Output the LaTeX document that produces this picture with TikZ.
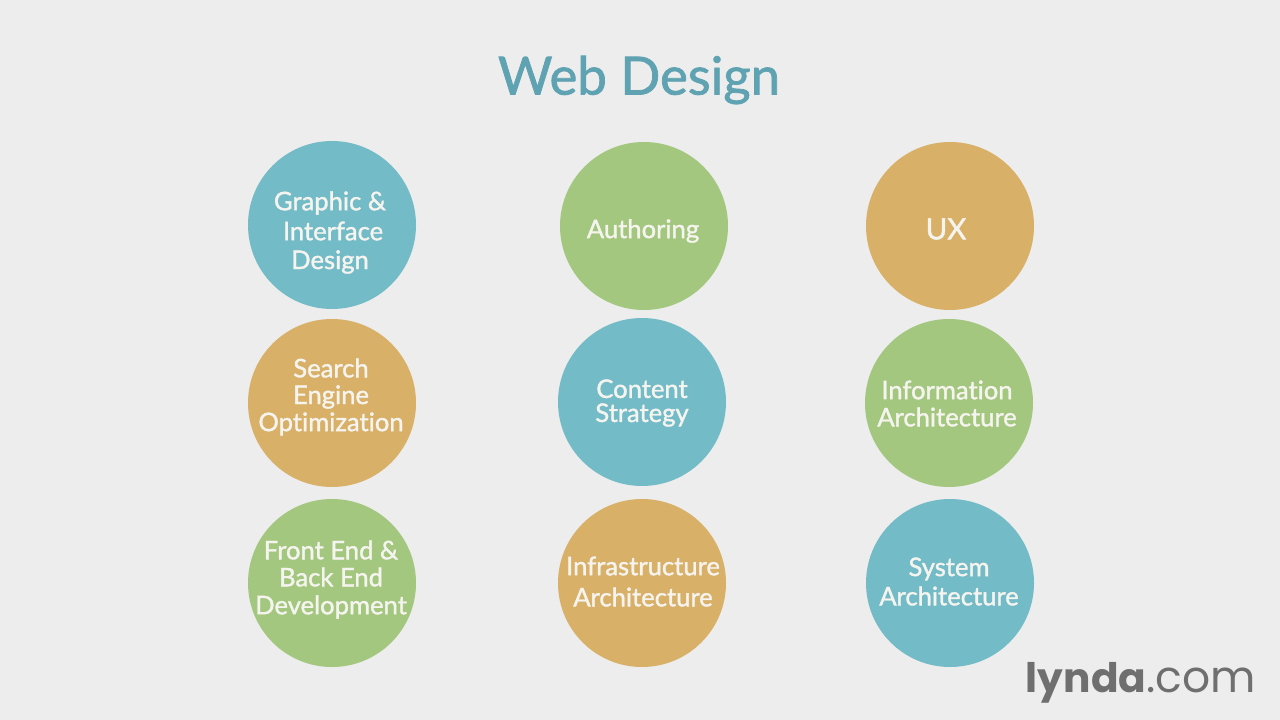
\documentclass[tikz,border=0pt]{standalone}
\usepackage{fontspec}
\setmainfont{Lato}[Ligatures=NoCommon]
\newfontfamily\medfont{Lato}[FakeBold=1.4,Ligatures=NoCommon]
\newfontfamily\logofont{Poppins}
\definecolor{bg}{HTML}{ECEDEC}
\definecolor{cblue}{HTML}{74BBC8}
\definecolor{cgreen}{HTML}{A3C77E}
\definecolor{corange}{HTML}{D9B068}
\definecolor{ctitle}{HTML}{5FA3B3}
\definecolor{clogo}{HTML}{6F6F6F}
\definecolor{ctext}{HTML}{F5F4EF}
\tikzset{
 px/.style={x=0.75pt,y=-0.75pt},
 bubble/.style={circle,minimum size=126pt,inner sep=0pt},
 lbl/.style={text=ctext,font=\medfont\fontsize{19.2pt}{18pt}\selectfont,align=center,inner sep=0pt},
}
\begin{document}
\begin{tikzpicture}[px]
\path[use as bounding box,fill=bg] (0,0) rectangle (1280,720);
\node[text=ctitle,font=\medfont\fontsize{39.5pt}{44pt}\selectfont] (title) at (639,80) {Web Design};
\node[bubble,fill=cblue] (a) at (332,225) {};
\node[bubble,fill=cgreen] (b) at (644,226) {};
\node[bubble,fill=corange] (c) at (950,226) {};
\node[bubble,fill=corange] (d) at (332,403) {};
\node[bubble,fill=cblue] (e) at (642,402) {};
\node[bubble,fill=cgreen] (f) at (949,403) {};
\node[bubble,fill=cgreen] (g) at (332,583) {};
\node[bubble,fill=corange] (h) at (642,583) {};
\node[bubble,fill=cblue] (i) at (950,583) {};
\node[lbl] (a1) at (330,203) {Graphic \&};
\node[lbl] (a2) at (333,231) {Interface};
\node[lbl] (a3) at (330,262) {Design};
\node[lbl] (b1) at (643,231) {Authoring};
\node[lbl,font=\medfont\fontsize{22pt}{24pt}\selectfont] (c1) at (946,229) {UX};
\node[lbl] (d1) at (331,368) {Search};
\node[lbl] (d2) at (331,397) {Engine};
\node[lbl] (d3) at (331,424) {Optimization};
\node[lbl] (e1) at (642,403) {Content\\Strategy};
\node[lbl] (f1) at (947,390) {Information};
\node[lbl] (f2) at (947,417) {Architecture};
\node[lbl] (g1) at (331,550) {Front End \&};
\node[lbl] (g2) at (331,577) {Back End};
\node[lbl] (g3) at (331,607) {Development};
\node[lbl] (h1) at (643,566) {Infrastructure};
\node[lbl] (h2) at (643,597) {Architecture};
\node[lbl] (i1) at (949,569) {System};
\node[lbl] (i2) at (949,596) {Architecture};
\node[anchor=east,inner sep=0pt,text=clogo] (logo) at (1256,683) {\logofont\fontsize{30.5pt}{36pt}\selectfont\textbf{lynda}\fontsize{33pt}{36pt}\selectfont.com};
\end{tikzpicture}
\end{document}
